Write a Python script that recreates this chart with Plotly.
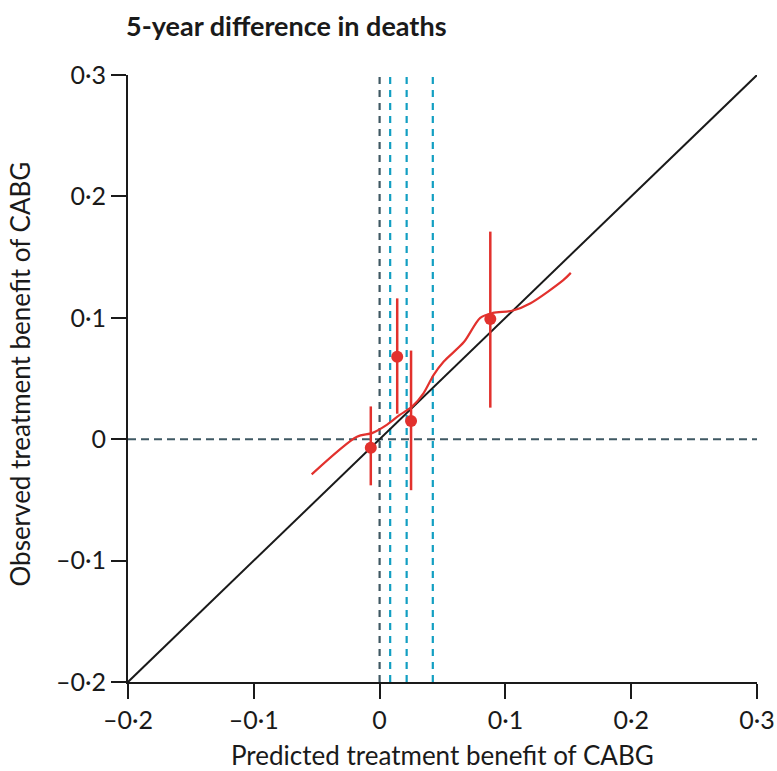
import plotly.graph_objects as go

# Grouped observed vs predicted benefit (point estimate with 95% CI)
group_pred = [-0.007, 0.014, 0.025, 0.088]
group_obs = [-0.007, 0.068, 0.015, 0.099]
group_lo = [-0.038, 0.021, -0.042, 0.026]
group_hi = [0.027, 0.116, 0.073, 0.171]

# Smoothed calibration curve
smooth_x = [-0.054, -0.018, -0.006, 0.006, 0.016, 0.026, 0.035, 0.043, 0.051,
            0.067, 0.080, 0.090, 0.106, 0.120, 0.146, 0.152]
smooth_y = [-0.029, 0.002, 0.005, 0.012, 0.020, 0.027, 0.038, 0.053, 0.064,
            0.080, 0.100, 0.104, 0.106, 0.112, 0.131, 0.137]

# Cut-points of predicted benefit
zero_line = 0.0
cutpoints = [0.0084, 0.0215, 0.0423]

tick_vals = [-0.2, -0.1, 0.0, 0.1, 0.2, 0.3]
tick_text = ["\u20130\u00b72", "\u20130\u00b71", "0", "0\u00b71", "0\u00b72", "0\u00b73"]

lo, hi = -0.2, 0.3
RED = "#e2312d"
SLATE = "#3f5863"
CYAN = "#129fc2"
INK = "#1a1a1a"
FONT = "Lato"

fig = go.Figure()

# Horizontal reference at zero
fig.add_trace(go.Scatter(x=[lo, hi], y=[0, 0], mode="lines",
                         line=dict(color=SLATE, width=2, dash="8px,5px"),
                         hoverinfo="skip", showlegend=False))
# Vertical reference at zero
fig.add_trace(go.Scatter(x=[zero_line, zero_line], y=[lo, hi], mode="lines",
                         line=dict(color=SLATE, width=2.2, dash="7px,6px"),
                         hoverinfo="skip", showlegend=False))
for c in cutpoints:
    fig.add_trace(go.Scatter(x=[c, c], y=[lo, hi], mode="lines",
                             line=dict(color=CYAN, width=2.2, dash="7px,6px"),
                             hoverinfo="skip", showlegend=False))

# Line of identity
fig.add_trace(go.Scatter(x=[lo, hi], y=[lo, hi], mode="lines",
                         line=dict(color=INK, width=2),
                         hoverinfo="skip", showlegend=False))

# Smoothed curve
fig.add_trace(go.Scatter(x=smooth_x, y=smooth_y, mode="lines",
                         line=dict(color=RED, width=2.2, shape="spline", smoothing=0.8),
                         showlegend=False))

# Confidence intervals
for gx, l, h in zip(group_pred, group_lo, group_hi):
    fig.add_trace(go.Scatter(x=[gx, gx], y=[l, h], mode="lines",
                             line=dict(color=RED, width=2.5),
                             showlegend=False))

# Group estimates
fig.add_trace(go.Scatter(x=group_pred, y=group_obs, mode="markers",
                         marker=dict(color=RED, size=12),
                         showlegend=False))

axis_common = dict(
    range=[lo, hi], tickvals=tick_vals, ticktext=tick_text,
    showgrid=False, zeroline=False, showline=True,
    linecolor=INK, linewidth=2, automargin=False,
    ticks="outside", ticklen=15, tickwidth=2, tickcolor=INK,
    tickfont=dict(family=FONT, size=25, color=INK),
)

fig.update_layout(
    width=777, height=771,
    margin=dict(l=128, r=20, t=75, b=89),
    plot_bgcolor="white", paper_bgcolor="white",
    xaxis=dict(**axis_common),
    yaxis=dict(**axis_common),
    annotations=[
        dict(text="<b>5-year difference in deaths</b>",
             xref="paper", yref="paper", x=0, y=1.0,
             xshift=-4, yshift=50, xanchor="left", yanchor="middle",
             showarrow=False, font=dict(family=FONT, size=27, color=INK)),
        dict(text="Predicted treatment benefit of CABG",
             xref="paper", yref="paper", x=0.5, y=0,
             yshift=-73, xanchor="center", yanchor="middle",
             showarrow=False, font=dict(family=FONT, size=26, color=INK)),
        dict(text="Observed treatment benefit of CABG",
             xref="paper", yref="paper", x=0, y=0.5,
             xshift=-109, yshift=4, xanchor="center", yanchor="middle",
             textangle=-90,
             showarrow=False, font=dict(family=FONT, size=26, color=INK)),
    ],
)

fig.write_html("out.html")
